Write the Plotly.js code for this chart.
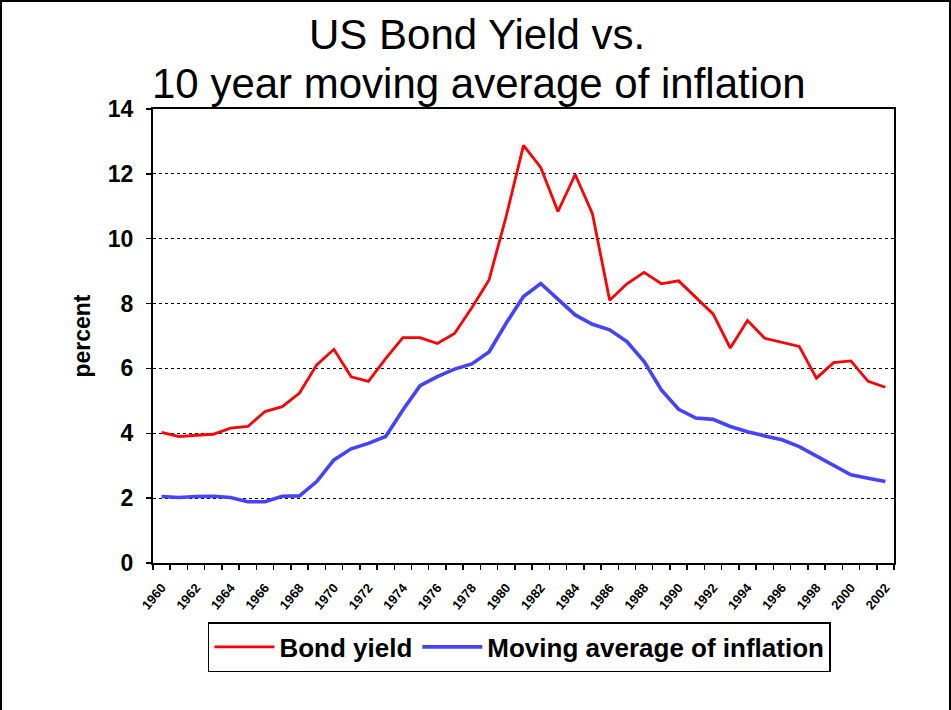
<!DOCTYPE html>
<html>
<head>
<meta charset="utf-8">
<script src="https://cdn.plot.ly/plotly-3.0.1.min.js"></script>
<style>
  html, body { margin: 0; padding: 0; background: #fff; }
  #wrap { position: relative; width: 951px; height: 710px; }
  #chart { width: 951px; height: 710px; }
  #frame { position: absolute; left: 0; top: 0; width: 947px; height: 712px;
           border: 2px solid #000; pointer-events: none; }
</style>
</head>
<body>
<div id="wrap">
  <div id="chart"></div>
  <div id="frame"></div>
</div>
<script>
// ---- data ----
const years = [1960,1961,1962,1963,1964,1965,1966,1967,1968,1969,
               1970,1971,1972,1973,1974,1975,1976,1977,1978,1979,
               1980,1981,1982,1983,1984,1985,1986,1987,1988,1989,
               1990,1991,1992,1993,1994,1995,1996,1997,1998,1999,
               2000,2001,2002];

const bondYield = [4.03,3.90,3.94,3.97,4.16,4.21,4.67,4.82,5.24,6.11,
                   6.59,5.74,5.60,6.30,6.95,6.95,6.77,7.08,7.87,8.73,
                   10.70,12.88,12.20,10.84,11.98,10.77,8.10,8.61,8.96,8.61,
                   8.70,8.19,7.68,6.63,7.48,6.93,6.80,6.68,5.70,6.18,
                   6.23,5.60,5.42];

const inflationMA = [2.05,2.02,2.05,2.06,2.02,1.89,1.89,2.06,2.07,2.51,
                     3.18,3.52,3.69,3.90,4.72,5.47,5.75,5.98,6.14,6.51,
                     7.40,8.22,8.62,8.12,7.65,7.36,7.19,6.83,6.21,5.34,
                     4.74,4.47,4.43,4.21,4.05,3.92,3.80,3.59,3.30,2.99,
                     2.72,2.61,2.51];

const xTickYears = [1960,1962,1964,1966,1968,1970,1972,1974,1976,1978,1980,
                    1982,1984,1986,1988,1990,1992,1994,1996,1998,2000,2002];
const yTicks = [0,2,4,6,8,10,12,14];

const seriesNames = ['Bond yield', 'Moving average of inflation'];
const titleLines = ['US Bond Yield vs.', '10 year moving average of inflation'];

// ---- chart ----
const FONT = 'Liberation Sans, Arial, Helvetica, sans-serif';

const traces = [
  { x: years, y: bondYield, name: seriesNames[0], type: 'scatter', mode: 'lines',
    line: { color: '#ff0000', width: 2.8 } },
  { x: years, y: inflationMA, name: seriesNames[1], type: 'scatter', mode: 'lines',
    line: { color: '#4444ff', width: 3.6 } }
];

const layout = {
  width: 951, height: 710,
  margin: { l: 153, r: 57, t: 109, b: 147 },
  paper_bgcolor: '#fff', plot_bgcolor: '#fff',
  font: { family: FONT, color: '#000' },
  showlegend: true,
  legend: {
    orientation: 'h', x: 0.4945, xanchor: 'center', y: -0.13, yanchor: 'top',
    bordercolor: '#000', borderwidth: 1.5, bgcolor: '#fff',
    font: { family: FONT, size: 26, color: '#000', weight: 'bold' },
    itemwidth: 60, tracegroupgap: 0
  },
  xaxis: {
    range: [1959.5, 2002.5],
    tickmode: 'array', tickvals: xTickYears, ticktext: xTickYears.map(String),
    tickangle: -50, ticks: '', ticklabelstandoff: 10,
    tickfont: { family: FONT, size: 13, color: '#000', weight: 'bold' },
    showline: true, linecolor: '#000', linewidth: 2, mirror: true,
    showgrid: false, zeroline: false,
    minor: { ticks: 'outside', tickmode: 'linear', tick0: 1959.5, dtick: 1,
             ticklen: 5, tickwidth: 1.5, tickcolor: '#000', showgrid: false }
  },
  yaxis: {
    range: [0, 14],
    tickmode: 'array', tickvals: yTicks,
    ticks: 'outside', ticklen: 5, tickwidth: 1.5, tickcolor: '#000',
    ticklabelstandoff: 8,
    tickfont: { family: FONT, size: 23, color: '#000', weight: 'bold' },
    showline: true, linecolor: '#000', linewidth: 2, mirror: true,
    showgrid: true, gridcolor: '#000', gridwidth: 1, griddash: 'dot',
    zeroline: false,
    title: { text: 'percent', standoff: 11,
             font: { family: FONT, size: 23, color: '#000', weight: 'bold' } }
  },
  annotations: [
    { text: titleLines[0], xref: 'paper', yref: 'paper', x: 0.437, y: 1.163,
      xanchor: 'center', yanchor: 'middle', showarrow: false,
      font: { family: FONT, size: 42, color: '#000' } },
    { text: titleLines[1], xref: 'paper', yref: 'paper', x: 0.44, y: 1.057,
      xanchor: 'center', yanchor: 'middle', showarrow: false,
      font: { family: FONT, size: 42, color: '#000' } }
  ]
};

Plotly.newPlot('chart', traces, layout, { staticPlot: true });
</script>
</body>
</html>
